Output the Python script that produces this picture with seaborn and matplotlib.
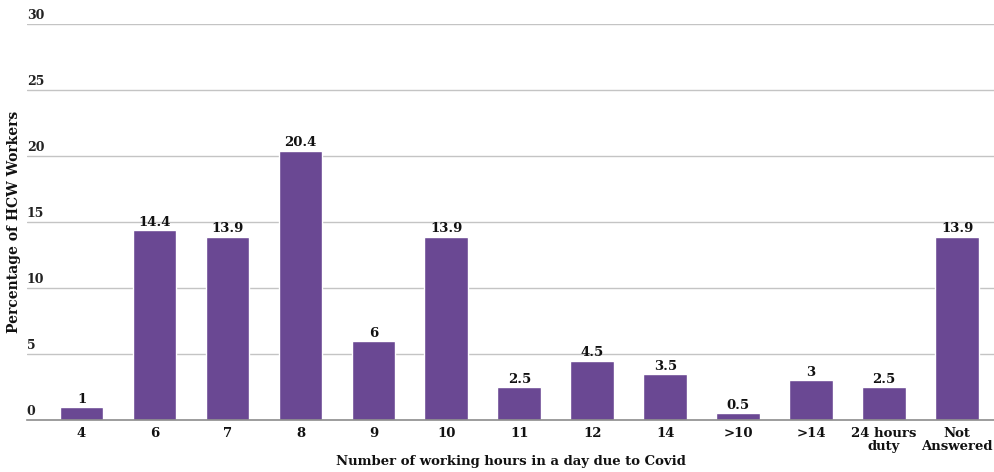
import numpy as np
import pandas as pd
import seaborn as sns
import matplotlib.pyplot as plt
from matplotlib import transforms

# Data
hours = ["4", "6", "7", "8", "9", "10", "11", "12", "14", ">10", ">14",
         "24 hours\nduty", "Not\nAnswered"]
percent = [1, 14.4, 13.9, 20.4, 6, 13.9, 2.5, 4.5, 3.5, 0.5, 3, 2.5, 13.9]
y_ticks = [0, 5, 10, 15, 20, 25, 30]

BAR_COLOR = "#6A4893"
GRID_COLOR = "#C4C4C4"

sns.set_theme(style="white")
plt.rcParams["font.family"] = ["DejaVu Serif"]
plt.rcParams["font.weight"] = "bold"

df = pd.DataFrame({"hours": hours, "percent": percent})

fig = plt.figure(figsize=(9.95, 4.72), dpi=100)
ax = fig.add_axes([0.027, 0.110, 0.973, 0.839])

sns.barplot(data=df, x="hours", y="percent", order=hours, color=BAR_COLOR,
            saturation=1, width=0.6, ax=ax)

ax.set_ylim(0, 30)
ax.set_xlim(-0.75, 12.52)

# gridlines
for t in y_ticks[1:]:
    ax.axhline(t, color=GRID_COLOR, lw=1, zorder=0)
ax.set_yticks([])

# y tick labels sit above the gridline at its left end
trans = transforms.blended_transform_factory(ax.transAxes, ax.transData)
for t in y_ticks:
    ax.text(0.0, t + 0.18, str(t), transform=trans, ha="left", va="bottom",
            fontsize=9, fontweight="bold", color="#222222")

# value labels
for i, v in enumerate(percent):
    ax.text(i, v + 0.1, f"{v:g}", ha="center", va="bottom",
            fontsize=9.5, fontweight="bold", color="#111111")

for side in ["top", "right", "left"]:
    ax.spines[side].set_visible(False)
ax.spines["bottom"].set_color("#8C8C8C")
ax.spines["bottom"].set_linewidth(1.2)

ax.tick_params(axis="x", length=0, pad=5)
for lab in ax.get_xticklabels():
    lab.set_fontsize(9.5)
    lab.set_fontweight("bold")
    lab.set_color("#111111")
    lab.set_linespacing(1.0)

ax.set_xlabel("Number of working hours in a day due to Covid", fontsize=9.5,
              fontweight="bold", color="#111111")
ax.xaxis.set_label_coords(0.5, -0.088)
ax.set_ylabel("Percentage of HCW Workers", fontsize=10, fontweight="bold",
              color="#111111")
ax.yaxis.set_label_coords(-0.006, 0.5)

fig.savefig("out.png", dpi=100)
